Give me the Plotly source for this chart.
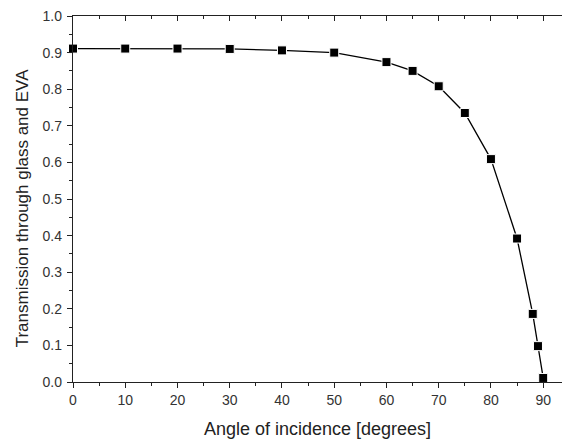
import plotly.graph_objects as go

angles = [0, 10, 20, 30, 40, 50, 60, 65, 70, 75, 80, 85, 88, 89, 90]
transmission = [0.911, 0.911, 0.911, 0.910, 0.906, 0.900, 0.874, 0.850, 0.808, 0.735, 0.609, 0.392, 0.186, 0.098, 0.011]

x_title = "Angle of incidence [degrees]"
y_title = "Transmission through glass and EVA"

fig = go.Figure()
fig.add_trace(go.Scatter(
    x=angles, y=transmission, mode="lines+markers",
    line=dict(color="black", width=1.3),
    marker=dict(symbol="square", size=9, color="black", line=dict(color="white", width=1)),
    showlegend=False, cliponaxis=False,
))
# invisible trace to activate top axis
fig.add_trace(go.Scatter(x=[0], y=[0], xaxis="x2", mode="markers",
                         marker=dict(opacity=0), showlegend=False, hoverinfo="skip"))

tickfont = dict(family="Liberation Sans, Arial, sans-serif", size=14, color="#333333")
titlefont = dict(family="Liberation Sans, Arial, sans-serif", size=18, color="#222222")

fig.update_layout(
    width=562, height=441,
    margin=dict(l=73, r=0, t=16, b=59),
    paper_bgcolor="white", plot_bgcolor="white",
    xaxis=dict(
        range=[0, 93.6], dtick=10, tick0=0, showgrid=False, zeroline=False,
        showline=True, linecolor="#222", linewidth=1.3, automargin=False,
        ticks="outside", ticklen=5, tickwidth=1.3, tickcolor="#222",
        minor=dict(dtick=5, ticks="outside", ticklen=3, tickcolor="#222", tickwidth=1.2),
        tickfont=tickfont, title=dict(text=x_title, font=titlefont, standoff=15),
    ),
    xaxis2=dict(
        overlaying="x", side="top", range=[0, 93.6], dtick=10, tick0=0,
        showgrid=False, zeroline=False, showline=True, linecolor="#222", linewidth=1.3,
        ticks="inside", ticklen=5, tickwidth=1.3, tickcolor="#222", automargin=False,
        minor=dict(dtick=5, ticks="inside", ticklen=3, tickcolor="#222", tickwidth=1.2),
        showticklabels=False,
    ),
    yaxis=dict(
        range=[0, 1.0], dtick=0.1, tick0=0, showgrid=False, zeroline=False,
        showline=True, linecolor="#222", linewidth=1.3, automargin=False,
        ticks="outside", ticklen=5, tickwidth=1.3, tickcolor="#222",
        minor=dict(dtick=0.05, ticks="outside", ticklen=3, tickcolor="#222", tickwidth=1.2),
        tickformat=".1f", tickfont=tickfont, ticklabelstandoff=2,
    ),
    annotations=[dict(
        text=y_title, textangle=-90, xref="paper", yref="paper",
        x=-0.104, y=0.475, xanchor="center", yanchor="middle", showarrow=False,
        font=dict(family="Liberation Sans, Arial, sans-serif", size=17, color="#222222"),
    )],
)

fig.write_html(
    "out.html",
    config={"displayModeBar": False},
    post_script="document.body.style.margin='0';document.body.style.overflow='hidden';",
)
